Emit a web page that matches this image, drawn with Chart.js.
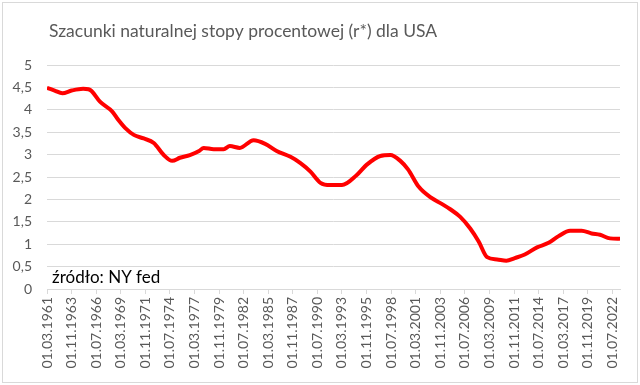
<!DOCTYPE html>
<html>
<head>
<meta charset="utf-8">
<script src="https://cdn.jsdelivr.net/npm/chart.js@4/dist/chart.umd.min.js"></script>
<style>
    body { margin: 0; background: #ffffff; }
    #wrap { position: relative; width: 640px; height: 385px; }
</style>
</head>
<body>
<div id="wrap"><canvas id="rstar" width="640" height="385"></canvas></div>
<script>
// title and note
const chart_title = "Szacunki naturalnej stopy procentowej (r*) dla USA";
const source_note = "źródło: NY fed";

const obs_dates = [
    "1961-03", "1962-01", "1962-11", "1963-11", "1965-02", "1965-09", "1966-01", "1966-12",
    "1968-04", "1968-12", "1969-09", "1970-08", "1971-09", "1972-10", "1973-11", "1974-10",
    "1975-08", "1976-09", "1977-09", "1978-03", "1979-04", "1980-05", "1981-01", "1982-02",
    "1983-08", "1984-11", "1986-02", "1987-08", "1988-09", "1989-10", "1990-11", "1991-12",
    "1993-03", "1994-10", "1995-11", "1997-05", "1998-06", "1999-07", "2000-05", "2001-07",
    "2002-10", "2004-01", "2004-12", "2006-01", "2007-02", "2008-01", "2008-12", "2010-01",
    "2011-01", "2011-12", "2013-01", "2014-05", "2015-08", "2016-09", "2017-12", "2019-03",
    "2020-04", "2021-03", "2022-04", "2023-05"
];

// r* estimate, percent
const rstar_values = [
    4.49, 4.43, 4.37, 4.43, 4.47, 4.46, 4.42, 4.18,
    3.96, 3.77, 3.59, 3.44, 3.36, 3.26, 2.99, 2.86,
    2.93, 2.99, 3.08, 3.15, 3.12, 3.12, 3.19, 3.15,
    3.32, 3.24, 3.08, 2.95, 2.81, 2.62, 2.37, 2.32,
    2.32, 2.54, 2.77, 2.97, 2.99, 2.86, 2.67, 2.28,
    2.05, 1.90, 1.78, 1.61, 1.35, 1.06, 0.71, 0.66,
    0.63, 0.69, 0.77, 0.93, 1.03, 1.18, 1.30, 1.30,
    1.24, 1.21, 1.13, 1.12
];

// axis: first category, label step in months, last month shown
const axis_start = "1961-03";
const label_step_months = 32;
const axis_end = "2023-05";

function monthsSinceStart(date_str) {
    const [y, m] = date_str.split("-").map(Number);
    const [y0, m0] = axis_start.split("-").map(Number);
    return (y - y0) * 12 + (m - m0);
}

function monthLabel(offset) {
    const [y0, m0] = axis_start.split("-").map(Number);
    const total = y0 * 12 + (m0 - 1) + offset;
    const year = Math.floor(total / 12);
    const month = (total % 12) + 1;
    return "01." + String(month).padStart(2, "0") + "." + year;
}

const points = obs_dates.map((d, i) => ({ x: monthsSinceStart(d), y: rstar_values[i] }));
const x_max = monthsSinceStart(axis_end);

// frame, title and source note drawn on the canvas
const decorations = {
    id: "decorations",
    beforeDraw(chart) {
        const ctx = chart.ctx;
        ctx.save();
        ctx.fillStyle = "#ffffff";
        ctx.fillRect(0, 0, chart.width, chart.height);
        ctx.strokeStyle = "#d9d9d9";
        ctx.lineWidth = 1;
        ctx.strokeRect(2.5, 2.5, chart.width - 5, chart.height - 5);
        ctx.restore();
    },
    afterDraw(chart) {
        const ctx = chart.ctx;
        ctx.save();
        ctx.textBaseline = "alphabetic";
        ctx.textAlign = "left";
        ctx.fillStyle = "#595959";
        ctx.font = "17.5px Lato";
        ctx.fillText(chart_title, 49, 37);
        ctx.fillStyle = "#000000";
        ctx.font = "17px Lato";
        ctx.fillText(source_note, 52, 283);
        ctx.restore();
    }
};

new Chart("rstar", {
    type: "line",
    data: {
        datasets: [{
            data: points,
            borderColor: "#ff0000",
            backgroundColor: "#ff0000",
            borderWidth: 4,
            pointRadius: 0,
            fill: false,
            cubicInterpolationMode: "monotone"
        }]
    },
    options: {
        responsive: false,
        animation: false,
        layout: { padding: { top: 65, right: 20, left: 0, bottom: 0 } },
        plugins: {
            legend: { display: false },
            tooltip: { enabled: false },
            title: { display: false }
        },
        scales: {
            x: {
                type: "linear",
                min: 0,
                max: x_max,
                afterBuildTicks: (axis) => {
                    const ticks = [];
                    for (let m = 0; m <= x_max; m += label_step_months) ticks.push({ value: m });
                    axis.ticks = ticks;
                },
                afterFit: (axis) => { axis.height = 96; },
                ticks: {
                    autoSkip: false,
                    minRotation: 90,
                    maxRotation: 90,
                    padding: 3,
                    color: "#595959",
                    font: { family: "Lato", size: 14 },
                    callback: (value) => monthLabel(value)
                },
                grid: {
                    drawOnChartArea: false,
                    drawTicks: true,
                    tickLength: 5,
                    color: "#d9d9d9"
                },
                border: { color: "#d9d9d9" }
            },
            y: {
                min: 0,
                max: 5,
                afterFit: (axis) => { axis.width = 47; },
                ticks: {
                    stepSize: 0.5,
                    padding: 15,
                    color: "#595959",
                    font: { family: "Lato", size: 14 },
                    callback: (value) => String(value).replace(".", ",")
                },
                grid: { color: "#d9d9d9", drawTicks: false },
                border: { display: false }
            }
        }
    },
    plugins: [decorations]
});
</script>
</body>
</html>
